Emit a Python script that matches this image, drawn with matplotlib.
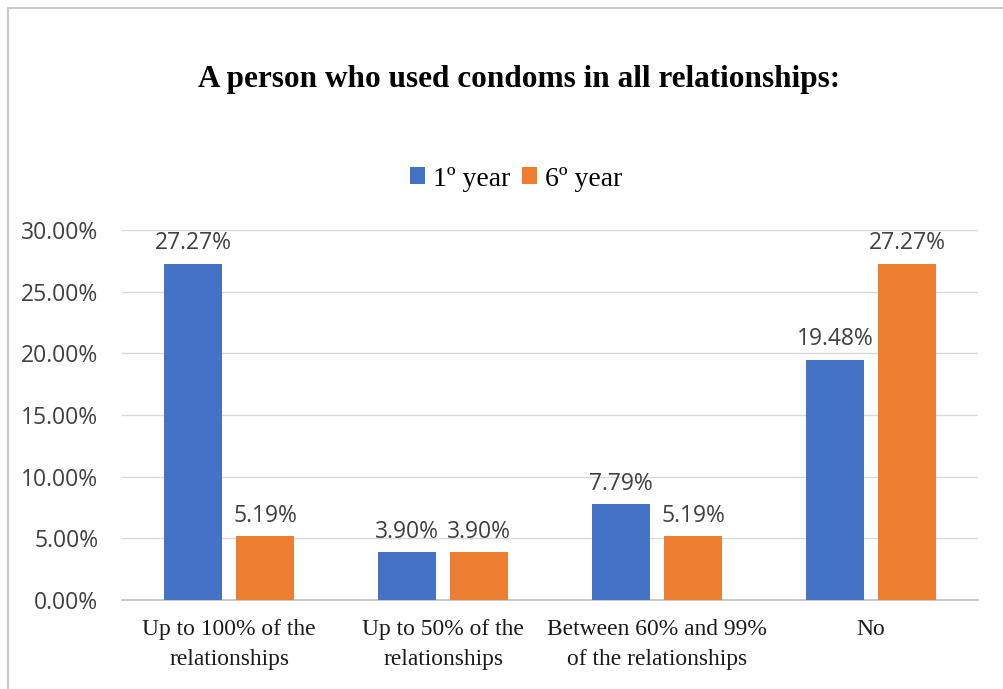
import matplotlib
matplotlib.use('Agg')
import matplotlib.pyplot as plt
import numpy as np
from matplotlib.patches import Rectangle
from matplotlib.ticker import FuncFormatter

plt.rcParams['font.family'] = 'Open Sans'

# data
categories = ['Up to 100% of the\nrelationships', 'Up to 50% of the\nrelationships',
              'Between 60% and 99%\nof the relationships', 'No']
year1 = [27.27, 3.90, 7.79, 19.48]
year6 = [5.19, 3.90, 5.19, 27.27]
series_names = ['1º year', '6º year']
colors = ['#4472C4', '#ED7D31']

fig = plt.figure(figsize=(10.04, 6.89), dpi=100)
ax = fig.add_axes([122 / 1004, 1 - 600 / 689, 856 / 1004, 370 / 689])

# outer frame of the chart area
fig.patches.append(Rectangle((8 / 1004, -0.05), 1.1, 1 - 8 / 689 + 0.05,
                             transform=fig.transFigure, fill=False,
                             edgecolor='#BFBFBF', linewidth=1.2))

x = np.arange(len(categories))
width = 0.267
offset = 0.168

bars = []
for i, (vals, name) in enumerate(zip([year1, year6], series_names)):
    b = ax.bar(x + (i * 2 - 1) * offset, vals, width, color=colors[i], label=name, zorder=3)
    bars.append(b)
    for rect, v in zip(b, vals):
        ax.annotate(f'{v:.2f}%', (rect.get_x() + rect.get_width() / 2, rect.get_height()),
                    xytext=(0, 6), textcoords='offset points', ha='center', va='bottom',
                    fontsize=16.5, color='#404040')

ax.set_xlim(-0.5, len(categories) - 0.5)
ax.set_ylim(0, 30)
ax.set_yticks(np.arange(0, 31, 5))
ax.yaxis.set_major_formatter(FuncFormatter(lambda v, p: f'{v:.2f}%'))
ax.grid(axis='y', color='#D9D9D9', linewidth=1, zorder=0)
ax.set_xticks(x)
ax.set_xticklabels(categories, family='Liberation Serif', fontsize=16.9, color='#1a1a1a', linespacing=1.55)
for s in ['top', 'right', 'left']:
    ax.spines[s].set_visible(False)
ax.spines['bottom'].set_color('#BFBFBF')
ax.spines['bottom'].set_linewidth(1.2)
ax.tick_params(axis='both', length=0)
ax.tick_params(axis='y', labelsize=16.5, labelcolor='#404040', pad=17)
ax.tick_params(axis='x', pad=14)

fig.text(0.517, 1 - 80 / 689, 'A person who used condoms in all relationships:',
         ha='center', va='center', family='Liberation Serif', fontweight='bold', fontsize=22.5)

fig.legend(handles=bars, labels=series_names, loc='center', bbox_to_anchor=(0.514, 1 - 179 / 689),
           ncol=2, frameon=False, prop={'family': 'Liberation Serif', 'size': 20},
           handlelength=0.55, handleheight=0.55, handletextpad=0.3, columnspacing=0.4)

fig.savefig('out.png', dpi=100)
